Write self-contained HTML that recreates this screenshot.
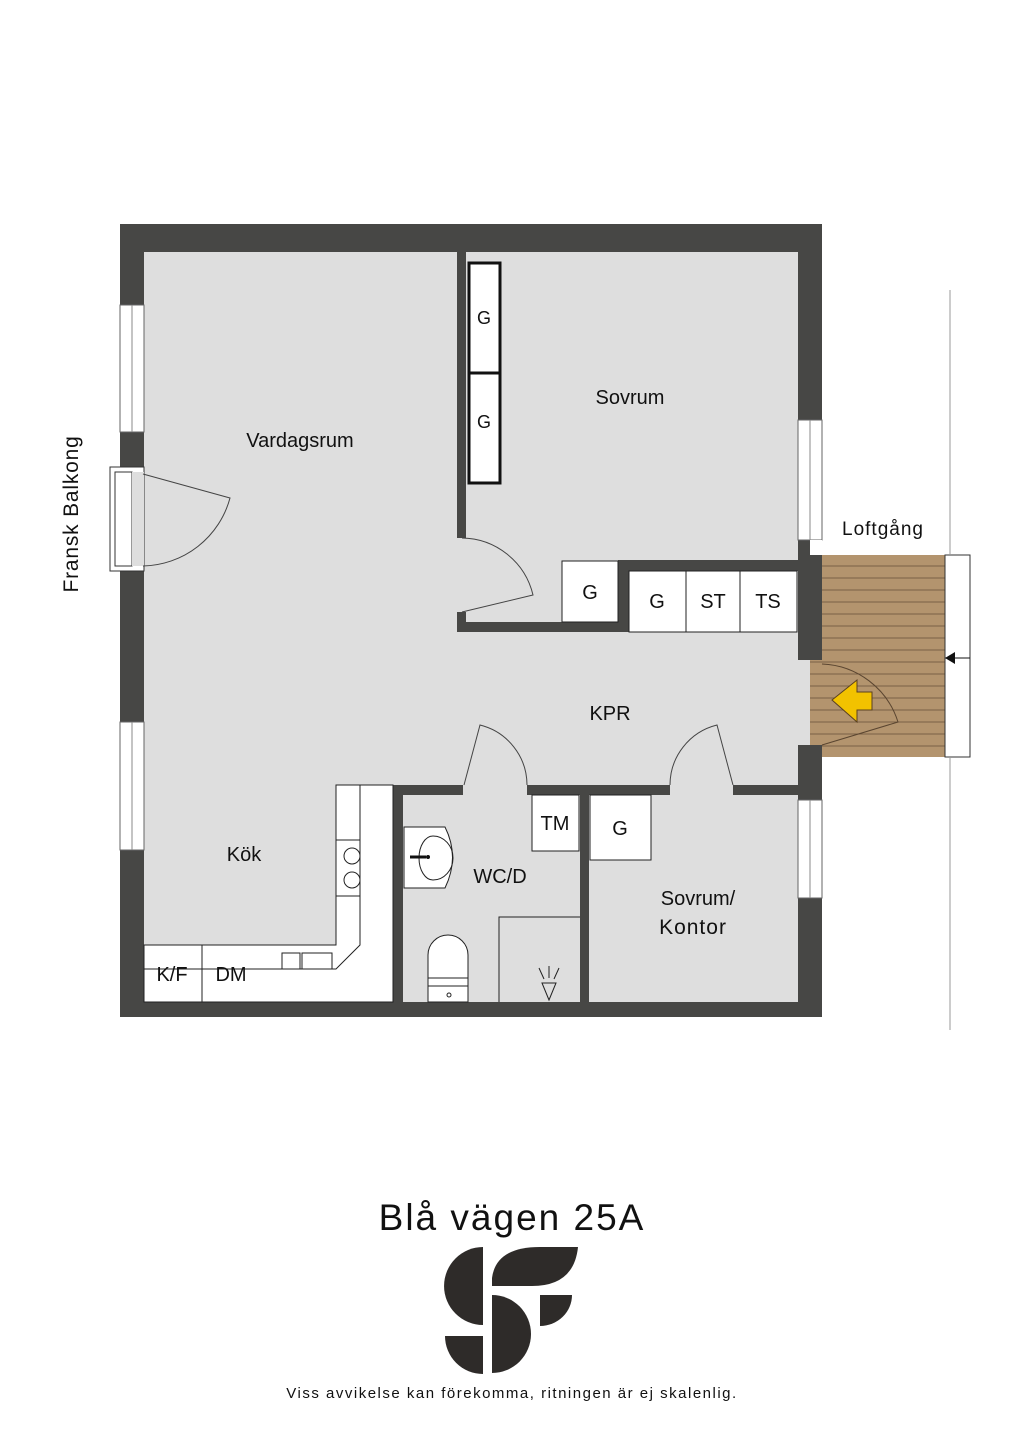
<!DOCTYPE html>
<html><head><meta charset="utf-8"><style>
html,body{margin:0;padding:0;background:#fff;}
svg{display:block;}
text{font-family:"Liberation Sans",sans-serif;fill:#111;}
</style></head><body>
<svg width="1024" height="1448" viewBox="0 0 1024 1448" xmlns="http://www.w3.org/2000/svg">
<rect width="1024" height="1448" fill="#fff"/>
<rect x="120" y="224" width="702" height="793" fill="#dedede"/>
<rect x="810" y="555" width="135" height="202" fill="#b3946e"/>
<g stroke="#7a6146" stroke-width="1">
<line x1="810" y1="566" x2="945" y2="566"/><line x1="810" y1="578" x2="945" y2="578"/><line x1="810" y1="590" x2="945" y2="590"/><line x1="810" y1="602" x2="945" y2="602"/><line x1="810" y1="614" x2="945" y2="614"/><line x1="810" y1="626" x2="945" y2="626"/><line x1="810" y1="638" x2="945" y2="638"/><line x1="810" y1="650" x2="945" y2="650"/><line x1="810" y1="662" x2="945" y2="662"/><line x1="810" y1="674" x2="945" y2="674"/><line x1="810" y1="686" x2="945" y2="686"/><line x1="810" y1="698" x2="945" y2="698"/><line x1="810" y1="710" x2="945" y2="710"/><line x1="810" y1="722" x2="945" y2="722"/><line x1="810" y1="734" x2="945" y2="734"/><line x1="810" y1="746" x2="945" y2="746"/>
</g>
<rect x="945" y="555" width="25" height="202" fill="#fff" stroke="#333" stroke-width="1"/>
<line x1="945" y1="658" x2="970" y2="658" stroke="#111"/>
<polygon points="945,658 955,652 955,664" fill="#111"/>
<line x1="950" y1="290" x2="950" y2="555" stroke="#999"/>
<line x1="950" y1="757" x2="950" y2="1030" stroke="#999"/>
<path d="M822,664 A83,83 0 0 1 898,722 L822,745" fill="none" stroke="#5a4530" stroke-width="1"/>
<polygon points="832,700 857,680 857,692 872,692 872,710 857,710 857,722" fill="#f2c200" stroke="#5a4020" stroke-width="1"/>
<g fill="#474745">
<rect x="120" y="224" width="702" height="28"/>
<rect x="120" y="1002" width="702" height="15"/>
<rect x="120" y="224" width="24" height="793"/>
<rect x="798" y="224" width="24" height="436"/>
<rect x="798" y="745" width="24" height="272"/>
<rect x="457" y="252" width="9" height="286"/>
<rect x="457" y="612" width="9" height="20"/>
<rect x="457" y="622" width="172" height="10"/>
<rect x="618" y="560" width="180" height="11"/>
<rect x="618" y="560" width="11" height="72"/>
<rect x="393" y="785" width="70" height="10"/>
<rect x="527" y="785" width="143" height="10"/>
<rect x="733" y="785" width="65" height="10"/>
<rect x="393" y="785" width="10" height="217"/>
<rect x="580" y="785" width="9" height="217"/>
</g>
<g fill="#fff" stroke="#666" stroke-width="1">
<rect x="120" y="305" width="24" height="127"/>
<rect x="120" y="722" width="24" height="128"/>
<rect x="798" y="420" width="24" height="120"/>
<rect x="798" y="800" width="24" height="98"/>
</g>
<g stroke="#888" stroke-width="1"><line x1="132" y1="305" x2="132" y2="432"/><line x1="132" y1="722" x2="132" y2="850"/><line x1="810" y1="420" x2="810" y2="540"/><line x1="810" y1="800" x2="810" y2="898"/></g>
<rect x="810" y="540" width="12" height="15" fill="#fff"/>
<rect x="110" y="467" width="34" height="104" fill="#fff" stroke="#333"/>
<rect x="115" y="472" width="17" height="94" fill="#fff" stroke="#333"/>
<rect x="132" y="472" width="12" height="94" fill="#dedede"/>
<path d="M143,474 L230,498 A92,92 0 0 1 143,566" fill="none" stroke="#444"/>
<path d="M462,538 A74,74 0 0 1 533,595 L462,612" fill="none" stroke="#444"/>
<path d="M464,785 L480,725 A62,62 0 0 1 527,785" fill="none" stroke="#444"/>
<path d="M733,785 L717,725 A62,62 0 0 0 670,785" fill="none" stroke="#444"/>
<rect x="469" y="263" width="31" height="110" fill="#fff" stroke="#111" stroke-width="3"/>
<rect x="469" y="373" width="31" height="110" fill="#fff" stroke="#111" stroke-width="3"/>
<g fill="#fff" stroke="#222" stroke-width="1">
<rect x="562" y="561" width="56" height="61"/>
<rect x="629" y="571" width="57" height="61"/>
<rect x="686" y="571" width="54" height="61"/>
<rect x="740" y="571" width="57" height="61"/>
<rect x="532" y="795" width="47" height="56"/>
<rect x="590" y="795" width="61" height="65"/>
</g>
<path d="M336,785 L393,785 L393,1002 L144,1002 L144,945 L336,945 Z" fill="#fff" stroke="#222"/>
<path d="M360,785 L360,945 L336,969 L144,969" fill="none" stroke="#222"/>
<line x1="202" y1="945" x2="202" y2="1002" stroke="#222"/>
<rect x="336" y="840" width="24" height="56" fill="#fff" stroke="#222"/>
<circle cx="352" cy="856" r="8" fill="#fff" stroke="#222"/>
<circle cx="352" cy="880" r="8" fill="#fff" stroke="#222"/>
<rect x="282" y="953" width="18" height="16" fill="#fff" stroke="#222"/>
<rect x="302" y="953" width="30" height="16" fill="#fff" stroke="#222"/>
<path d="M404,827 L445,827 Q460,857 445,888 L404,888 Z" fill="#fff" stroke="#222"/>
<path d="M433,836 A20,22 0 0 1 433,880 A14,22 0 0 1 433,836 Z" fill="none" stroke="#222"/>
<line x1="410" y1="857" x2="426" y2="857" stroke="#111" stroke-width="3"/>
<circle cx="428" cy="857" r="2" fill="#111"/>
<path d="M428,1002 L428,955 A20,20 0 0 1 468,955 L468,1002 Z" fill="#fff" stroke="#222"/>
<line x1="428" y1="978" x2="468" y2="978" stroke="#222"/><line x1="428" y1="986" x2="468" y2="986" stroke="#222"/>
<circle cx="449" cy="995" r="2" fill="none" stroke="#222"/>
<path d="M499,1002 L499,917 L580,917" fill="none" stroke="#222"/>
<path d="M542,983 L549,1000 L556,983 Z M539,968 L544,979 M549,966 L549,978 M559,968 L554,979" fill="none" stroke="#222"/>
<text x="300" y="447" font-size="20" text-anchor="middle">Vardagsrum</text>
<text x="630" y="404" font-size="20" text-anchor="middle">Sovrum</text>
<text x="484" y="324" font-size="18" text-anchor="middle">G</text>
<text x="484" y="428" font-size="18" text-anchor="middle">G</text>
<text x="590" y="599" font-size="20" text-anchor="middle">G</text>
<text x="657" y="608" font-size="20" text-anchor="middle">G</text>
<text x="713" y="608" font-size="20" text-anchor="middle">ST</text>
<text x="768" y="608" font-size="20" text-anchor="middle">TS</text>
<text x="610" y="720" font-size="20" text-anchor="middle">KPR</text>
<text x="555" y="830" font-size="20" text-anchor="middle">TM</text>
<text x="620" y="835" font-size="20" text-anchor="middle">G</text>
<text x="500" y="883" font-size="20" text-anchor="middle">WC/D</text>
<text x="244" y="861" font-size="20" text-anchor="middle">Kök</text>
<text x="172" y="981" font-size="20" text-anchor="middle">K/F</text>
<text x="231" y="981" font-size="20" text-anchor="middle">DM</text>
<text x="698" y="905" font-size="20" text-anchor="middle">Sovrum/</text>
<text x="693" y="934" font-size="21" text-anchor="middle" letter-spacing="1">Kontor</text>
<text x="883" y="535" font-size="19" text-anchor="middle" letter-spacing="1">Loftgång</text>
<text transform="translate(78,514) rotate(-90)" font-size="21" text-anchor="middle" letter-spacing="0.8">Fransk Balkong</text>
<text x="512" y="1230" font-size="37" text-anchor="middle" letter-spacing="2">Blå vägen 25A</text>
<text x="512" y="1398" font-size="15" text-anchor="middle" letter-spacing="1.5">Viss avvikelse kan förekomma, ritningen är ej skalenlig.</text>
<g fill="#2e2b29">
<path d="M483,1247 A39,39 0 0 0 483,1325 Z"/>
<path d="M445,1336 L483,1336 L483,1374 A38,38 0 0 1 445,1336 Z"/>
<path d="M492,1295 A39,39 0 0 1 492,1373 Z"/>
<path d="M492,1286 L492,1278 Q496,1247 540,1247 L578,1247 Q574,1286 532,1286 Z"/>
<path d="M540,1295 L572,1295 A32,31 0 0 1 540,1326 Z"/>
</g>
</svg>
</body></html>
